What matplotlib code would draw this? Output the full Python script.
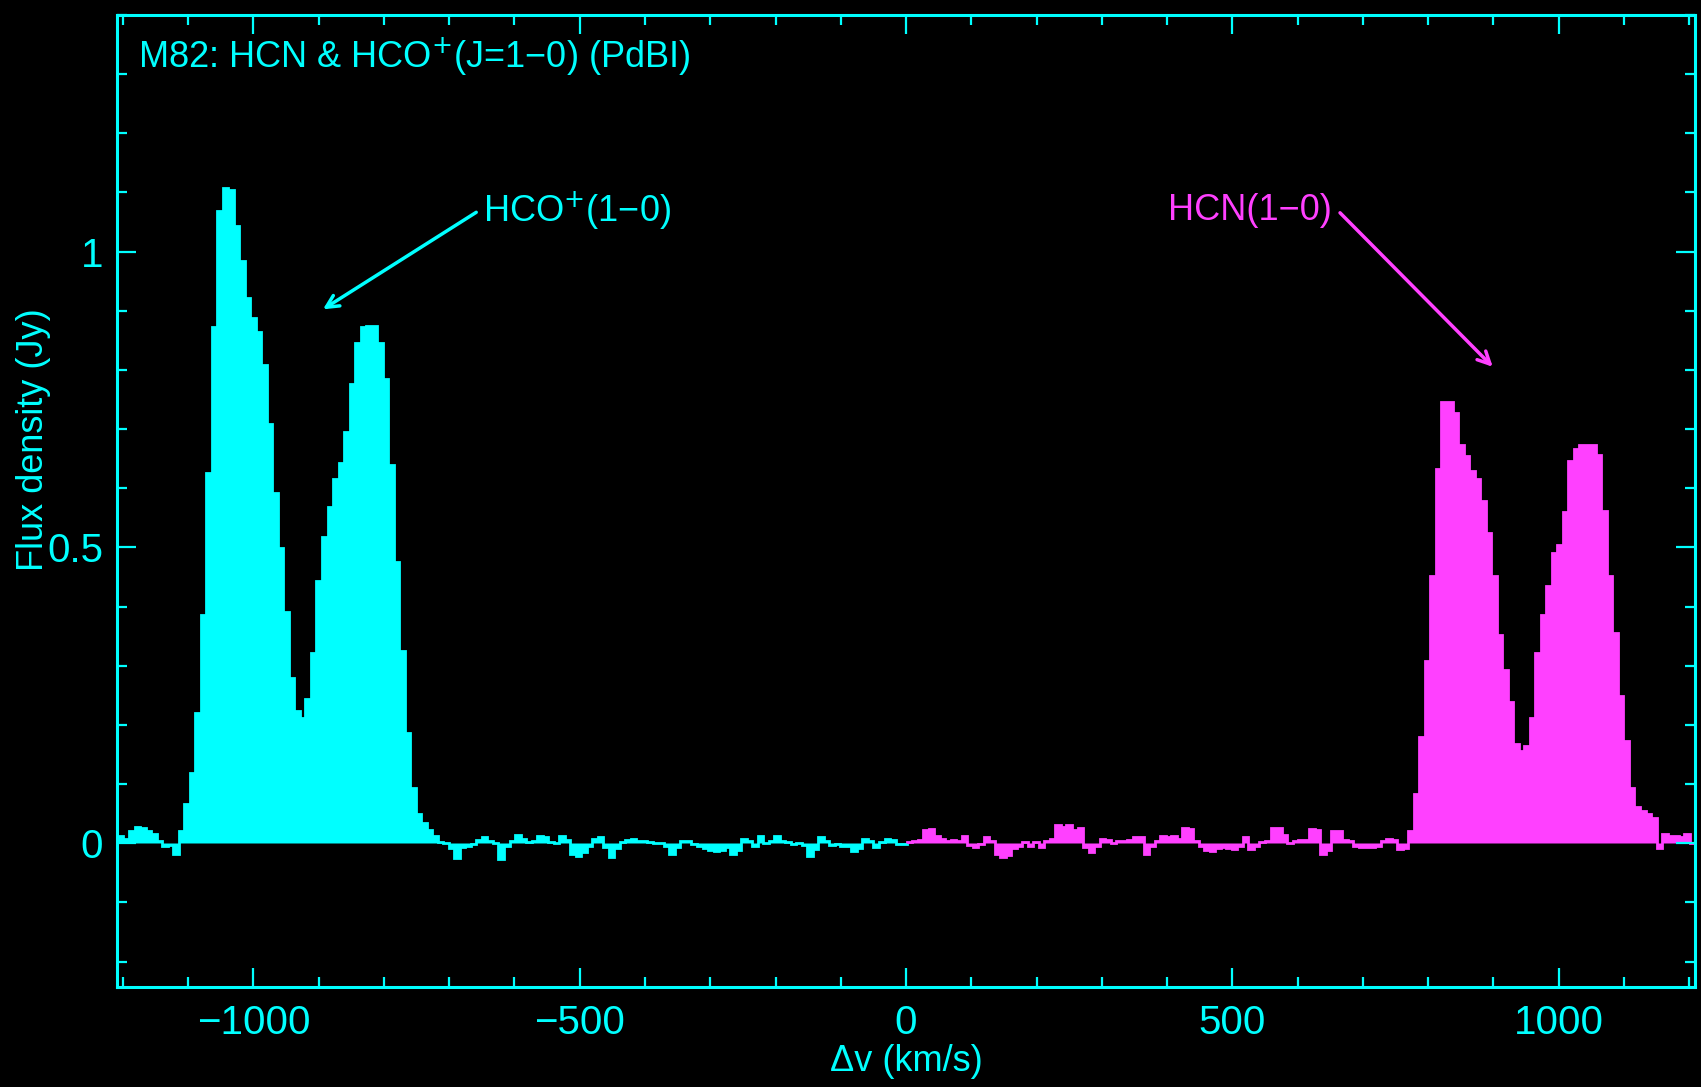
import numpy as np
import matplotlib
matplotlib.use("Agg")
import matplotlib.pyplot as plt
from matplotlib.ticker import MultipleLocator, FixedLocator

# M82 HCN / HCO+ (1-0) spectrum, PdBI
# channel grid: first edge and width in km/s
v_first_edge = -1216.0
dv = 8.45

# HCO+ (cyan), channels from -1216 to ~0 km/s
hco_flux = [
    0.010, 0.012, 0.008, 0.020, 0.027, 0.026, 0.020, 0.015, 0.003, -0.005,
    -0.003, -0.018, 0.020, 0.066, 0.118, 0.220, 0.386, 0.625, 0.872, 1.068,
    1.108, 1.105, 1.044, 0.985, 0.922, 0.888, 0.864, 0.808, 0.708, 0.592,
    0.499, 0.391, 0.280, 0.224, 0.212, 0.244, 0.322, 0.443, 0.517, 0.569,
    0.615, 0.643, 0.695, 0.777, 0.846, 0.873, 0.875, 0.875, 0.846, 0.784,
    0.640, 0.476, 0.325, 0.186, 0.093, 0.050, 0.035, 0.023, 0.013, 0.002,
    0.000, -0.008, -0.025, -0.006, -0.004, -0.002, 0.006, 0.010, 0.004, 0.000,
    -0.026, -0.004, 0.003, 0.014, 0.008, 0.002, 0.004, 0.012, 0.010, 0.002,
    0.000, 0.012, 0.006, -0.018, -0.021, -0.015, -0.004, 0.008, 0.010, -0.006,
    -0.024, -0.008, 0.002, 0.006, 0.007, 0.004, 0.004, 0.002, 0.001, 0.000,
    -0.004, -0.018, -0.006, 0.004, 0.003, -0.002, -0.005, -0.008, -0.012, -0.013,
    -0.012, -0.006, -0.018, -0.012, 0.007, 0.004, -0.004, 0.012, 0.000, 0.003,
    0.012, 0.004, 0.002, -0.002, 0.001, -0.003, -0.021, -0.010, 0.010, 0.004,
    -0.003, -0.002, -0.004, -0.004, -0.013, -0.008, 0.007, 0.004, -0.006, 0.002,
    0.007, 0.005, -0.002, -0.002,
]

# HCN (magenta), channels from ~0 to 1209 km/s
hcn_flux = [
    0.002, 0.004, 0.006, 0.022, 0.024, 0.012, 0.008, 0.004, 0.006, 0.004,
    0.012, -0.003, -0.006, -0.002, 0.010, 0.004, -0.018, -0.024, -0.020, -0.008,
    -0.004, 0.002, -0.004, 0.002, -0.006, 0.004, 0.008, 0.030, 0.028, 0.030,
    0.022, 0.026, -0.006, -0.014, -0.004, 0.007, 0.006, 0.000, 0.003, 0.004,
    0.006, 0.010, 0.010, -0.018, -0.004, 0.004, 0.012, 0.010, 0.012, 0.008,
    0.026, 0.024, 0.004, -0.004, -0.012, -0.013, -0.008, -0.006, -0.008, -0.010,
    -0.004, 0.010, -0.010, -0.004, 0.002, 0.004, 0.026, 0.026, 0.014, 0.000,
    0.004, 0.005, 0.006, 0.024, 0.022, -0.018, -0.012, 0.020, 0.020, 0.006,
    0.003, -0.004, -0.006, -0.007, -0.006, -0.004, 0.004, 0.007, 0.006, -0.010,
    -0.008, 0.020, 0.083, 0.179, 0.308, 0.451, 0.633, 0.746, 0.746, 0.728,
    0.674, 0.655, 0.629, 0.616, 0.579, 0.525, 0.451, 0.352, 0.293, 0.238,
    0.167, 0.156, 0.164, 0.211, 0.322, 0.385, 0.435, 0.491, 0.504, 0.560,
    0.646, 0.666, 0.673, 0.673, 0.673, 0.656, 0.562, 0.452, 0.356, 0.249,
    0.173, 0.094, 0.062, 0.055, 0.050, 0.043, -0.008, 0.015, 0.013, 0.013,
    0.010, 0.015, 0.000,
]

x_major = [-1000, -500, 0, 500, 1000]
y_major = [0, 0.5, 1]
y_major_labels = ['0', '0.5', '1']

CYAN = '#00ffff'
MAGENTA = '#ff40ff'
fam = ['Liberation Sans Narrow', 'Liberation Sans', 'DejaVu Sans']
plt.rcParams['font.family'] = fam

n_hco = len(hco_flux)
n_hcn = len(hcn_flux)
edges = v_first_edge + dv * np.arange(n_hco + n_hcn + 1)

fig = plt.figure(figsize=(17.01, 10.87), dpi=100, facecolor='black')
ax = fig.add_axes([0.0688, 0.092, 0.9277, 0.8942], facecolor='black')

ax.stairs(hco_flux, edges[:n_hco + 1], baseline=0, fill=True,
          facecolor=CYAN, edgecolor=CYAN, linewidth=2)
ax.stairs(hcn_flux, edges[n_hco:], baseline=0, fill=True,
          facecolor=MAGENTA, edgecolor=MAGENTA, linewidth=2)

ax.set_xlim(-1209, 1209)
ax.set_ylim(-0.243, 1.4)

ax.xaxis.set_major_locator(FixedLocator(x_major))
ax.xaxis.set_minor_locator(MultipleLocator(100))
ax.yaxis.set_major_locator(FixedLocator(y_major))
ax.set_yticklabels(y_major_labels)
ax.yaxis.set_minor_locator(MultipleLocator(0.1))

ax.tick_params(which='both', direction='in', colors=CYAN, top=True, right=True,
               width=1.6)
ax.tick_params(which='major', length=14)
ax.tick_params(which='minor', length=7)
ax.tick_params(axis='x', which='major', pad=12, labelsize=29)
ax.tick_params(axis='y', which='major', pad=10, labelsize=29)
for s in ax.spines.values():
    s.set_color(CYAN)
    s.set_linewidth(2.2)

ax.set_xlabel('Δv (km/s)', color=CYAN, fontsize=26, va='top')
ax.xaxis.set_label_coords(0.5, -0.059)
ax.set_ylabel('Flux density (Jy)', color=CYAN, fontsize=26)
ax.yaxis.set_label_coords(-0.042, 0.563)

ax.text(0.0133, 0.957, 'M82: HCN & HCO$^{+}$(J=1−0) (PdBI)', transform=ax.transAxes,
        color=CYAN, fontsize=26, ha='left', va='center')

# line labels with arrows
ax.text(-648, 1.069, 'HCO$^{+}$(1−0)', color=CYAN, fontsize=26, ha='left', va='center')
ax.annotate('', xy=(-897, 0.90), xytext=(-655, 1.069),
            arrowprops=dict(arrowstyle='->', color=CYAN, lw=2.5, mutation_scale=22))
ax.text(652, 1.069, 'HCN(1−0)', color=MAGENTA, fontsize=26, ha='right', va='center')
ax.annotate('', xy=(902, 0.802), xytext=(662, 1.069),
            arrowprops=dict(arrowstyle='->', color=MAGENTA, lw=2.5, mutation_scale=22))

fig.savefig('out.png', dpi=100, facecolor='black')
